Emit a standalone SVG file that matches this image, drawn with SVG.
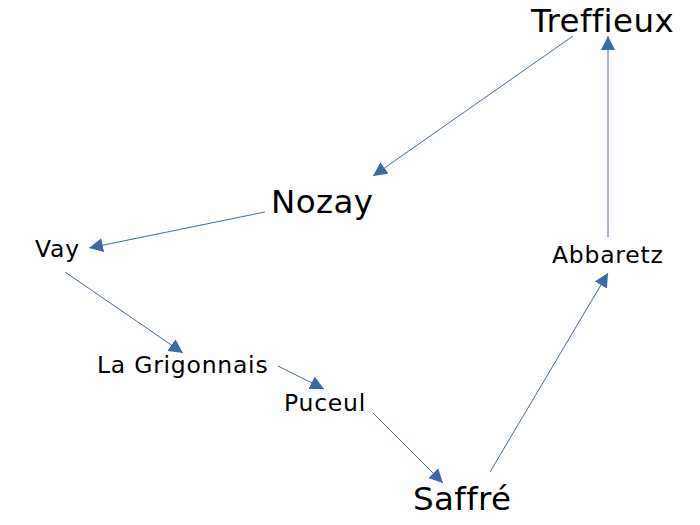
<svg xmlns="http://www.w3.org/2000/svg" width="700" height="525" viewBox="0 0 700 525">
<style>
text{font-family:"DejaVu Sans",sans-serif;fill:#000}
.big{font-size:32.5px;letter-spacing:0.4px}
.small{font-size:23.5px;letter-spacing:0.75px}
.edge{stroke:#3f6b9e;stroke-width:1;fill:none;marker-end:url(#ah)}
</style>
<defs>
<marker id="ah" markerUnits="userSpaceOnUse" markerWidth="14" markerHeight="14" refX="14" refY="7" orient="auto">
<path d="M0,0 L14,7 L0,14 z" fill="#3a6aa6"/>
</marker>
</defs>
<rect width="700" height="525" fill="#fff"/>
<g id="connectors">
<line class="edge" x1="573" y1="36" x2="373" y2="176"/>
<line class="edge" x1="608" y1="237" x2="608" y2="36"/>
<line class="edge" x1="265" y1="212" x2="89" y2="248"/>
<line class="edge" x1="65" y1="272" x2="183" y2="353"/>
<line class="edge" x1="278" y1="366" x2="324" y2="389"/>
<line class="edge" x1="373" y1="413" x2="443" y2="483"/>
<line class="edge" x1="490" y1="472" x2="608" y2="273"/>
</g>
<g id="treffieux"><text class="big" x="531" y="32">Treffieux</text></g>
<g id="nozay"><text class="big" x="271" y="213">Nozay</text></g>
<g id="vay"><text class="small" x="35" y="257">Vay</text></g>
<g id="la-grigonnais"><text class="small" x="97" y="373">La Grigonnais</text></g>
<g id="puceul"><text class="small" x="284" y="411">Puceul</text></g>
<g id="abbaretz"><text class="small" x="552" y="263">Abbaretz</text></g>
<g id="saffre"><text class="big" x="413" y="510">Saffré</text></g>
</svg>
